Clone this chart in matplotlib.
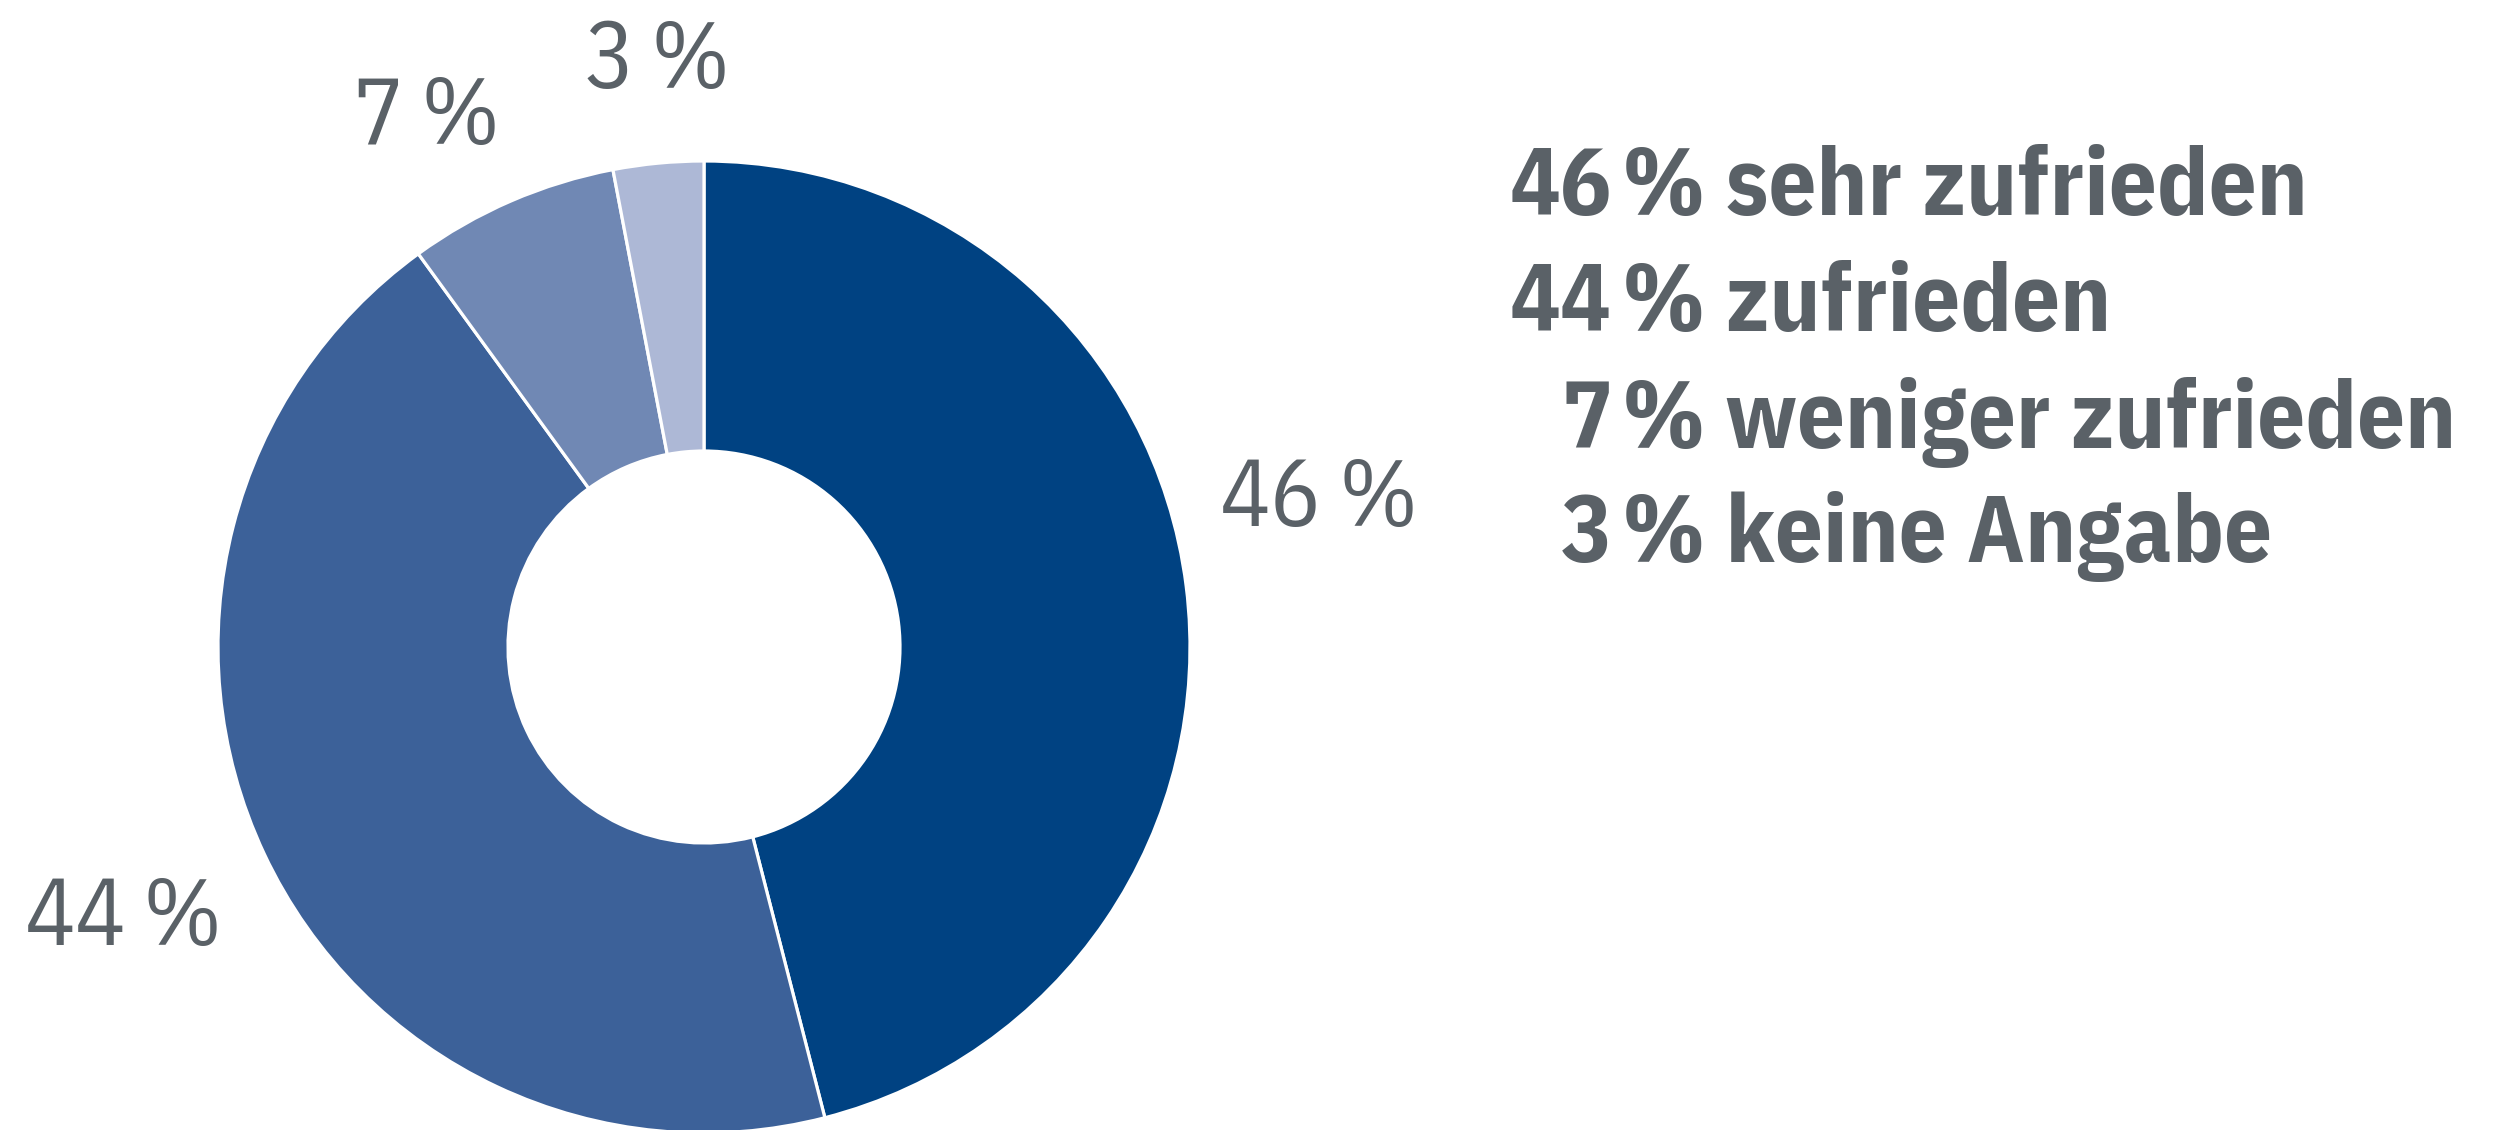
import matplotlib
matplotlib.use("Agg")
import matplotlib.pyplot as plt
from matplotlib.textpath import TextPath
from matplotlib.font_manager import FontProperties

# ---- data ----
categories = ["sehr zufrieden", "zufrieden", "weniger zufrieden", "keine Angabe"]
values = [46, 44, 7, 3]
colors = ["#004282", "#3c6199", "#7088b4", "#adb8d6"]
text_color = "#5a6167"

W, H = 2493, 1130
DPI = 100
fig = plt.figure(figsize=(W / DPI, H / DPI), dpi=DPI)
ax = fig.add_axes([0, 0, 1, 1])

fam = ["IBM Plex Sans Condensed", "Roboto Condensed", "Liberation Sans", "DejaVu Sans"]


def size_for_digit_height(px, weight):
    fp = FontProperties(family=fam, weight=weight)
    h = TextPath((0, 0), "4", size=100, prop=fp).get_extents().height / 100.0
    return px / h * 72.0 / DPI


fs_reg = size_for_digit_height(66, "normal")
fs_bold = size_for_digit_height(66, "bold")

cx, cy = 704, H - 647
R_out, R_in = 486, 196

ax.pie(values, colors=colors, startangle=90, counterclock=False,
       center=(cx, cy), radius=R_out,
       wedgeprops=dict(width=R_out - R_in, edgecolor="white", linewidth=2.3))
ax.set_xlim(0, W)
ax.set_ylim(0, H)
ax.set_aspect("equal")
ax.axis("off")

# slice labels: (number right edge, % left edge, baseline) in pixels from top-left
label_pos = [(1322, 1338, 526), (127, 143, 945), (403, 420, 144), (635, 650, 88)]
for v, (xr, xp, yb) in zip(values, label_pos):
    ax.text(xr, H - yb, f"{v}", ha="right", va="baseline", fontsize=fs_reg,
            color=text_color, family=fam)
    ax.text(xp, H - yb, "%", ha="left", va="baseline", fontsize=fs_reg,
            color=text_color, family=fam)

# legend
leg_baselines = [215, 331, 448, 562]
for v, c, yb in zip(values, categories, leg_baselines):
    ax.text(1612, H - yb, f"{v}", ha="right", va="baseline", fontsize=fs_bold,
            color=text_color, family=fam, fontweight="bold")
    ax.text(1622, H - yb, f"% {c}", ha="left", va="baseline", fontsize=fs_bold,
            color=text_color, family=fam, fontweight="bold")

fig.savefig("out.png", dpi=DPI, facecolor="white")
